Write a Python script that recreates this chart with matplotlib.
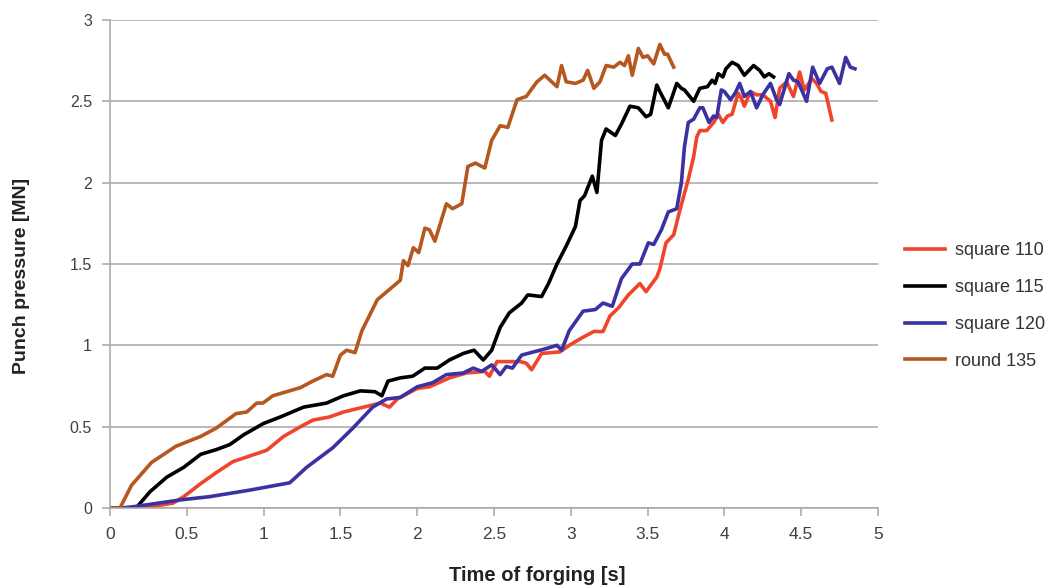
import matplotlib
matplotlib.use('Agg')
import matplotlib.pyplot as plt

t110 = [0, 0.17, 0.28, 0.41, 0.48, 0.59, 0.695, 0.80, 0.91, 1.02, 1.13, 1.24, 1.32, 1.43, 1.52, 1.65,
        1.76, 1.82, 1.87, 2.0, 2.08, 2.21, 2.32, 2.44, 2.47, 2.52, 2.60, 2.67, 2.71, 2.745, 2.81, 2.93,
        2.99, 3.08, 3.15, 3.21, 3.255, 3.31, 3.375, 3.45, 3.49, 3.56, 3.58, 3.62, 3.67, 3.71, 3.765,
        3.80, 3.82, 3.84, 3.885, 3.93, 3.96, 3.99, 4.02, 4.05, 4.09, 4.11, 4.13, 4.17, 4.21, 4.25,
        4.30, 4.33, 4.36, 4.405, 4.45, 4.49, 4.52, 4.57, 4.60, 4.63, 4.66, 4.70]
p110 = [0, 0, 0.01, 0.03, 0.07, 0.15, 0.22, 0.285, 0.32, 0.355, 0.44, 0.50, 0.54, 0.56, 0.59, 0.62,
        0.645, 0.62, 0.67, 0.735, 0.745, 0.80, 0.83, 0.84, 0.81, 0.90, 0.90, 0.90, 0.89, 0.85, 0.95, 0.96,
        1.00, 1.05, 1.085, 1.085, 1.18, 1.23, 1.31, 1.38, 1.33, 1.42, 1.47, 1.63, 1.68, 1.83, 2.02,
        2.16, 2.28, 2.32, 2.32, 2.37, 2.42, 2.37, 2.41, 2.42, 2.55, 2.52, 2.47, 2.56, 2.54, 2.54,
        2.50, 2.40, 2.58, 2.62, 2.53, 2.68, 2.57, 2.64, 2.61, 2.56, 2.55, 2.385]

t115 = [0, 0.17, 0.26, 0.37, 0.48, 0.59, 0.695, 0.78, 0.87, 1.0, 1.11, 1.26, 1.41, 1.52, 1.63, 1.725,
        1.77, 1.81, 1.89, 1.97, 2.05, 2.13, 2.21, 2.30, 2.37, 2.43, 2.485, 2.54, 2.60, 2.68, 2.72,
        2.81, 2.855, 2.91, 2.97, 3.03, 3.06, 3.09, 3.14, 3.17, 3.20, 3.23, 3.29, 3.33, 3.385, 3.44,
        3.49, 3.52, 3.56, 3.58, 3.635, 3.69, 3.72, 3.74, 3.80, 3.84, 3.89, 3.92, 3.94, 3.96, 3.99,
        4.01, 4.05, 4.09, 4.13, 4.19, 4.23, 4.26, 4.29, 4.32]
p115 = [0, 0, 0.10, 0.19, 0.25, 0.33, 0.36, 0.39, 0.45, 0.52, 0.56, 0.62, 0.645, 0.69, 0.72, 0.715,
        0.69, 0.78, 0.80, 0.81, 0.86, 0.86, 0.91, 0.95, 0.97, 0.91, 0.97, 1.11, 1.20, 1.26, 1.31,
        1.30, 1.38, 1.50, 1.61, 1.73, 1.89, 1.92, 2.04, 1.94, 2.26, 2.33, 2.29, 2.36, 2.47, 2.46,
        2.405, 2.42, 2.60, 2.56, 2.46, 2.61, 2.58, 2.57, 2.50, 2.58, 2.59, 2.63, 2.61, 2.67, 2.65,
        2.70, 2.74, 2.72, 2.66, 2.72, 2.69, 2.65, 2.67, 2.65]

t120 = [0, 0.08, 0.17, 0.46, 0.65, 0.91, 1.17, 1.28, 1.45, 1.58, 1.71, 1.80, 1.89, 2.0, 2.10, 2.19,
        2.30, 2.365, 2.42, 2.485, 2.54, 2.58, 2.62, 2.68, 2.76, 2.84, 2.91, 2.94, 2.99, 3.08, 3.16,
        3.21, 3.27, 3.33, 3.40, 3.45, 3.505, 3.54, 3.59, 3.635, 3.69, 3.72, 3.74, 3.765, 3.80, 3.84,
        3.86, 3.90, 3.93, 3.95, 3.98, 4.00, 4.04, 4.07, 4.10, 4.13, 4.17, 4.21, 4.25, 4.30, 4.34,
        4.36, 4.42, 4.45, 4.48, 4.535, 4.575, 4.62, 4.67, 4.70, 4.75, 4.79, 4.82, 4.85]
p120 = [0, 0, 0.01, 0.05, 0.07, 0.11, 0.155, 0.25, 0.37, 0.49, 0.62, 0.67, 0.68, 0.745, 0.77, 0.82,
        0.83, 0.86, 0.84, 0.88, 0.82, 0.87, 0.86, 0.94, 0.96, 0.98, 1.00, 0.97, 1.09, 1.21, 1.22,
        1.26, 1.24, 1.41, 1.50, 1.50, 1.63, 1.62, 1.71, 1.82, 1.84, 2.00, 2.22, 2.37, 2.39, 2.46,
        2.46, 2.37, 2.41, 2.40, 2.57, 2.56, 2.51, 2.55, 2.61, 2.53, 2.56, 2.46, 2.54, 2.61, 2.51,
        2.48, 2.67, 2.63, 2.62, 2.50, 2.71, 2.61, 2.70, 2.71, 2.61, 2.77, 2.71, 2.70]

t135 = [0, 0.065, 0.14, 0.27, 0.43, 0.59, 0.69, 0.82, 0.89, 0.955, 0.995, 1.06, 1.24, 1.32, 1.41,
        1.45, 1.50, 1.54, 1.595, 1.64, 1.74, 1.89, 1.91, 1.94, 1.975, 2.01, 2.05, 2.08, 2.115, 2.19,
        2.23, 2.29, 2.33, 2.38, 2.44, 2.485, 2.54, 2.59, 2.65, 2.71, 2.78, 2.83, 2.91, 2.94, 2.97,
        3.03, 3.08, 3.11, 3.15, 3.19, 3.23, 3.28, 3.32, 3.35, 3.375, 3.40, 3.44, 3.47, 3.50, 3.54,
        3.58, 3.61, 3.63, 3.67]
p135 = [0, 0, 0.14, 0.28, 0.38, 0.44, 0.49, 0.58, 0.59, 0.645, 0.645, 0.69, 0.74, 0.78, 0.82,
        0.81, 0.94, 0.97, 0.955, 1.09, 1.28, 1.40, 1.52, 1.49, 1.60, 1.57, 1.72, 1.71, 1.64, 1.87,
        1.84, 1.87, 2.10, 2.12, 2.09, 2.26, 2.35, 2.34, 2.51, 2.53, 2.62, 2.66, 2.59, 2.72, 2.62,
        2.61, 2.63, 2.69, 2.58, 2.62, 2.72, 2.71, 2.74, 2.72, 2.78, 2.66, 2.825, 2.77, 2.78, 2.73,
        2.85, 2.79, 2.79, 2.71]

series = [(t110, p110, 'square 110', '#F0452B'),
          (t115, p115, 'square 115', '#000000'),
          (t120, p120, 'square 120', '#3A32A2'),
          (t135, p135, 'round 135', '#B5571F')]

xticks = [0, 0.5, 1, 1.5, 2, 2.5, 3, 3.5, 4, 4.5, 5]
yticks = [0, 0.5, 1, 1.5, 2, 2.5, 3]

plt.rcParams['font.family'] = ['Liberation Sans', 'DejaVu Sans']

fig = plt.figure(figsize=(10.56, 5.86), dpi=100)
ax = fig.add_axes([0.1042, 0.1331, 0.7272, 0.8328])

for t, p, lab, c in series:
    ax.plot(t, p, color=c, lw=2.6, label=lab, solid_joinstyle='round')

ax.set_xlim(0, 5)
ax.set_ylim(0, 3)
ax.set_xticks(xticks)
ax.set_xticklabels(['%g' % v for v in xticks], fontsize=12.5)
ax.set_yticks(yticks)
ax.set_yticklabels(['%g' % v for v in yticks], fontsize=11.5)
ax.yaxis.grid(True, color='#A6A6A6', lw=1.1)
ax.set_axisbelow(True)
for s in ['top', 'right']:
    ax.spines[s].set_visible(False)
for s in ['left', 'bottom']:
    ax.spines[s].set_color('#A6A6A6')
    ax.spines[s].set_linewidth(1.1)
ax.tick_params(colors='#A6A6A6', labelcolor='#404040', length=6, width=1.1)
ax.tick_params(axis='x', pad=8)
ax.tick_params(axis='y', pad=7)

ax.set_xlabel('Time of forging [s]', fontweight='bold', fontsize=14.5, color='#222222')
ax.xaxis.set_label_coords(0.556, -0.119)
ax.set_ylabel('Punch pressure [MN]', fontweight='bold', fontsize=14, color='#222222')
ax.yaxis.set_label_coords(-0.104, 0.475)

fig.legend(loc='center left', bbox_to_anchor=(0.842, 0.478), frameon=False, fontsize=13,
           handlelength=2.2, labelspacing=1.1, handletextpad=0.55, labelcolor='#333333')

fig.savefig('out.png', dpi=100)
